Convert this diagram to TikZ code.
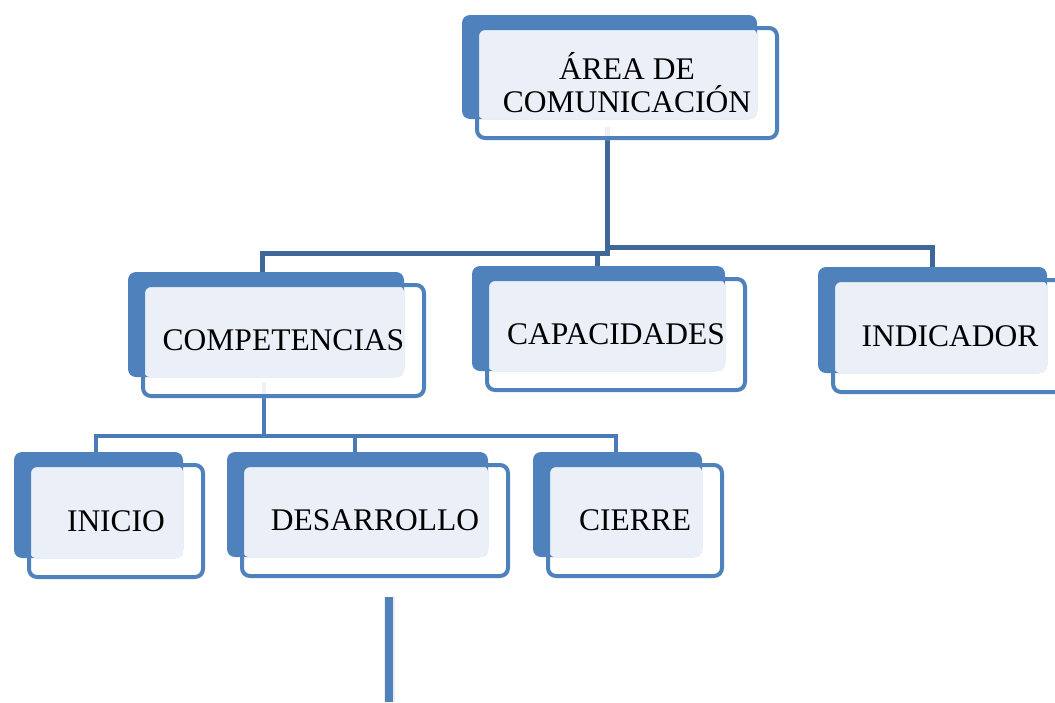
\documentclass[tikz,border=0pt]{standalone}
\usepackage{fontspec}
\setmainfont{Liberation Serif}
\usetikzlibrary{backgrounds}
\definecolor{boxblue}{HTML}{4F81BD}
\definecolor{boxlight}{HTML}{EBF0F8}
\definecolor{linkdark}{HTML}{3F6797}
\definecolor{linkmid}{HTML}{4A7AB8}
\begin{document}
\begin{tikzpicture}[x=1pt,y=1pt]
	\tikzstyle{every node}=[draw=boxblue, line width=4pt, rounded corners=8pt, inner sep=0pt, align=center, font=\fontsize{31.5pt}{33pt}\selectfont]
	\tikzstyle{toplink}=[draw=linkdark, line width=5pt]
	\tikzstyle{sublink}=[draw=linkmid, line width=4.5pt]
	\tikzstyle{backfill}=[fill=boxblue, rounded corners=8pt]
	\tikzstyle{lightfill}=[fill=boxlight, rounded corners=6pt]
	\tikzstyle{whitefill}=[fill=white, opacity=0.9, rounded corners=8pt]
	\useasboundingbox (0,0) rectangle (1055,-702);
	\path (627,-83) node[minimum width=300pt, minimum height=110pt] (area) {ÁREA DE\\COMUNICACIÓN}
	      (283.5,-340.5) node[minimum width=281pt, minimum height=111pt] (comp) {COMPETENCIAS}
	      (616,-334.5) node[minimum width=258pt, minimum height=111pt] (capa) {CAPACIDADES}
	      (950,-336) node[minimum width=234pt, minimum height=112pt] (indi) {INDICADOR}
	      (116,-521) node[minimum width=174pt, minimum height=112pt] (inic) {INICIO}
	      (375,-520.5) node[minimum width=266pt, minimum height=111pt] (desa) {DESARROLLO}
	      (635,-520.5) node[minimum width=174pt, minimum height=111pt] (cier) {CIERRE};
	\coordinate (tailtop) at (389,-597);
	\coordinate (tailend) at (389,-702);
	\begin{scope}[on background layer]
		% links from the top box
		\draw[toplink] ([shift={(-20pt,13pt)}]area.south) -- ++(0,-126) -| ([xshift=-21.5pt]comp.north);
		\draw[toplink] ([shift={(-20pt,13pt)}]area.south) -- ++(0,-126) -| ([xshift=-19pt]capa.north);
		\draw[toplink] ([shift={(-20pt,13pt)}]area.south) -- ++(0,-120) -| ([xshift=-18pt]indi.north);
		% links from competencias
		\draw[sublink] ([shift={(-19.5pt,16pt)}]comp.south) -- ++(0,-54) -| ([xshift=-20pt]inic.north);
		\draw[sublink] ([shift={(-19.5pt,16pt)}]comp.south) -- ++(0,-54) -| ([xshift=-20pt]desa.north);
		\draw[sublink] ([shift={(-19.5pt,16pt)}]comp.south) -- ++(0,-54) -| ([xshift=-19pt]cier.north);
		% box layers
		\fill[whitefill] (area.north west) rectangle (area.south east);
		\fill[whitefill] (comp.north west) rectangle (comp.south east);
		\fill[whitefill] (capa.north west) rectangle (capa.south east);
		\fill[whitefill] (indi.north west) rectangle (indi.south east);
		\fill[whitefill] (inic.north west) rectangle (inic.south east);
		\fill[whitefill] (desa.north west) rectangle (desa.south east);
		\fill[whitefill] (cier.north west) rectangle (cier.south east);
		\fill[backfill] ([shift={(-13pt,11pt)}]area.north west) rectangle ([shift={(-22pt,21pt)}]area.south east);
		\fill[backfill] ([shift={(-13pt,11pt)}]comp.north west) rectangle ([shift={(-22pt,21pt)}]comp.south east);
		\fill[backfill] ([shift={(-13pt,11pt)}]capa.north west) rectangle ([shift={(-22pt,21pt)}]capa.south east);
		\fill[backfill] ([shift={(-13pt,11pt)}]indi.north west) rectangle ([shift={(-22pt,21pt)}]indi.south east);
		\fill[backfill] ([shift={(-13pt,11pt)}]inic.north west) rectangle ([shift={(-22pt,21pt)}]inic.south east);
		\fill[backfill] ([shift={(-13pt,11pt)}]desa.north west) rectangle ([shift={(-22pt,21pt)}]desa.south east);
		\fill[backfill] ([shift={(-13pt,11pt)}]cier.north west) rectangle ([shift={(-22pt,21pt)}]cier.south east);
		\fill[lightfill] ([shift={(3pt,-3pt)}]area.north west) rectangle ([shift={(-22pt,21pt)}]area.south east);
		\fill[lightfill] ([shift={(3pt,-3pt)}]comp.north west) rectangle ([shift={(-22pt,21pt)}]comp.south east);
		\fill[lightfill] ([shift={(3pt,-3pt)}]capa.north west) rectangle ([shift={(-22pt,21pt)}]capa.south east);
		\fill[lightfill] ([shift={(3pt,-3pt)}]indi.north west) rectangle ([shift={(-22pt,21pt)}]indi.south east);
		\fill[lightfill] ([shift={(3pt,-3pt)}]inic.north west) rectangle ([shift={(-22pt,21pt)}]inic.south east);
		\fill[lightfill] ([shift={(3pt,-3pt)}]desa.north west) rectangle ([shift={(-22pt,21pt)}]desa.south east);
		\fill[lightfill] ([shift={(3pt,-3pt)}]cier.north west) rectangle ([shift={(-22pt,21pt)}]cier.south east);
	\end{scope}
	% line below desarrollo
	\draw[black, opacity=0.07, line width=11pt] (tailtop) -- (tailend);
	\draw[boxblue, line width=8pt] (tailtop) -- (tailend);
\end{tikzpicture}
\end{document}
